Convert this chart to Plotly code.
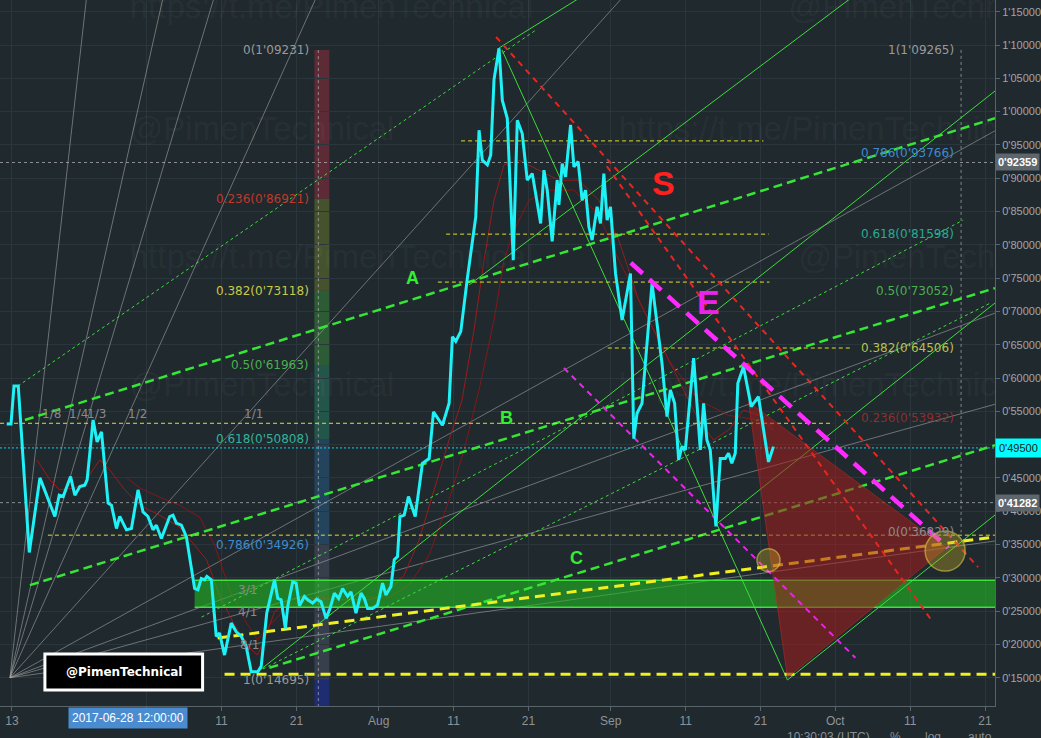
import numpy as np
import pandas as pd
import plotly.graph_objects as go

BASE = pd.Timestamp("2017-06-13")


def dt(d):
    return BASE + pd.to_timedelta(float(d), unit="D")


def dts(ds):
    return [dt(d) for d in ds]


# ---------------- price (days after 2017-06-13, price) ----------------
price_days = [-0.7, -0.13, 0.27, 0.84, 2.31, 3.73, 5.73, 6.31, 6.84, 7.83, 8.4, 9.07, 9.73, 10.04,
              10.84, 11.37, 11.96, 12.84, 13.29, 13.96, 14.4, 15.29, 15.96, 16.84, 17.51, 18.17,
              18.84, 19.29, 19.96, 21.07, 21.51, 21.96, 22.63, 23.29, 24.4, 24.84, 25.29, 25.73,
              26.04, 26.63, 27.29, 27.73, 28.4, 29.29, 29.96, 30.63, 31.29, 31.96, 32.84, 33.29,
              34.04, 35.07, 35.51, 35.96, 36.53, 36.84, 37.51, 37.96, 38.4, 39.07, 39.51, 40.17,
              40.71, 41.29, 41.96, 42.49, 43.07, 43.64, 44.17, 44.84, 45.29, 45.96, 46.63, 47.07,
              47.51, 48.17, 48.84, 49.51, 49.96, 50.63, 51.07, 51.51, 51.83, 52.4, 52.97, 53.87,
              54.84, 55.73, 56.31, 57.07, 57.51, 58.4, 58.84, 59.29, 59.96, 60.84, 61.96, 62.4,
              62.84, 63.51, 63.96, 64.4, 65.07, 65.51, 66.17, 66.97, 67.51, 68.17, 68.84, 69.51,
              70.04, 70.63, 71.07, 71.51, 72.17, 72.84, 73.07, 73.51, 73.96, 74.63, 75.07, 75.64,
              76.17, 76.63, 77.07, 77.51, 78.17, 78.63, 79.07, 79.51, 79.96, 80.63, 81.51, 82.63,
              83.07, 83.51, 84.17, 85.51, 86.84, 87.51, 87.96, 88.53, 89.07, 89.51, 89.96, 91.07,
              91.96, 92.4, 92.84, 93.29, 94.04, 94.63, 95.29, 95.73, 96.17, 96.63, 96.97, 97.73,
              98.76, 99.73, 101.07, 101.73]
price_vals = [0.531, 0.531, 0.588, 0.588, 0.338, 0.450, 0.392, 0.424, 0.422, 0.452, 0.424, 0.437,
              0.439, 0.447, 0.537, 0.504, 0.519, 0.412, 0.409, 0.374, 0.392, 0.372, 0.374, 0.432,
              0.399, 0.392, 0.372, 0.379, 0.359, 0.392, 0.394, 0.382, 0.379, 0.362, 0.284, 0.282,
              0.299, 0.297, 0.302, 0.297, 0.212, 0.217, 0.184, 0.232, 0.219, 0.212, 0.197, 0.159,
              0.159, 0.167, 0.247, 0.297, 0.269, 0.267, 0.224, 0.257, 0.294, 0.292, 0.258, 0.272,
              0.267, 0.262, 0.268, 0.264, 0.239, 0.254, 0.277, 0.269, 0.284, 0.272, 0.279, 0.247,
              0.277, 0.269, 0.254, 0.254, 0.259, 0.292, 0.274, 0.287, 0.327, 0.332, 0.392, 0.394,
              0.422, 0.392, 0.472, 0.479, 0.549, 0.537, 0.529, 0.562, 0.662, 0.655, 0.670, 0.750,
              0.842, 0.972, 0.927, 0.920, 0.935, 1.048, 1.095, 1.017, 0.990, 0.777, 0.987, 0.967,
              0.897, 0.907, 0.872, 0.832, 0.912, 0.882, 0.805, 0.897, 0.860, 0.922, 0.902, 0.980,
              0.917, 0.925, 0.867, 0.882, 0.827, 0.807, 0.857, 0.832, 0.907, 0.837, 0.857, 0.757,
              0.687, 0.757, 0.509, 0.547, 0.562, 0.742, 0.622, 0.542, 0.582, 0.562, 0.477, 0.497,
              0.492, 0.630, 0.492, 0.562, 0.507, 0.492, 0.377, 0.479, 0.479, 0.487, 0.472, 0.487,
              0.592, 0.617, 0.557, 0.572, 0.474, 0.497]

# moving averages (dark red)
ma_fast_days = [3.33, 5.07, 6.4, 8.4, 9.73, 10.8, 11.73, 13.07, 15.07, 17.07, 19.73, 22.4, 24.4, 26.0,
                27.73, 29.73, 31.73, 32.8, 33.73, 35.07, 37.07, 39.73, 43.73, 47.73, 49.73, 51.07,
                52.4, 54.4, 56.4, 58.4, 60.13, 61.73, 63.07, 64.4, 65.73, 67.73, 70.4, 73.07, 75.73,
                78.4, 81.07, 83.73, 86.4, 89.07, 91.73, 93.73, 95.73, 97.73, 99.73, 101.73]
ma_fast_vals = [0.477, 0.447, 0.432, 0.435, 0.442, 0.462, 0.477, 0.462, 0.432, 0.409, 0.394, 0.376,
                0.349, 0.327, 0.274, 0.229, 0.195, 0.184, 0.207, 0.249, 0.267, 0.270, 0.267, 0.267,
                0.274, 0.289, 0.304, 0.357, 0.432, 0.507, 0.567, 0.672, 0.777, 0.867, 0.920, 0.927,
                0.912, 0.897, 0.897, 0.867, 0.807, 0.717, 0.657, 0.597, 0.537, 0.507, 0.522, 0.552,
                0.544, 0.522]
ma_slow_days = [15.33, 17.07, 19.73, 22.4, 25.07, 27.07, 29.07, 31.07, 32.8, 34.4, 37.07, 41.07, 46.4,
                50.4, 53.07, 55.73, 58.4, 60.4, 62.4, 64.4, 65.73, 67.07, 69.07, 71.73, 75.07, 78.4,
                81.07, 84.4, 87.73, 91.73, 95.73, 99.73, 101.73]
ma_slow_vals = [0.450, 0.435, 0.421, 0.409, 0.391, 0.349, 0.282, 0.237, 0.207, 0.229, 0.259, 0.271,
                0.271, 0.271, 0.289, 0.334, 0.417, 0.492, 0.582, 0.687, 0.777, 0.822, 0.867, 0.882,
                0.882, 0.845, 0.777, 0.702, 0.627, 0.567, 0.544, 0.537, 0.529]

# ---------------- drawings (endpoints as (day, price)) ----------------
gann_origin = (-0.27, 0.15)
gann_unit_slope = 0.01248          # price per day of the 1/1 line
gann_multipliers = [8, 4, 3, 2, 1, 1 / 2, 1 / 3, 1 / 4, 1 / 8]
gann_top_labels = ["1/8", "1/4", "1/3", "1/2", "1/1"]
gann_top_label_days = [5.33, 8.9, 11.3, 16.8, 32.3]
gann_top_label_price = 0.546
gann_side_labels = ["3/1", "4/1", "8/1"]
gann_side_label_days = [31.5, 31.5, 31.7]
gann_side_label_prices = [0.282, 0.249, 0.199]

green_thick_dashed = [((1.73, 0.537), (131.33, 0.990)),
                      ((2.4, 0.289), (131.33, 0.735)),
                      ((34.4, 0.165), (131.33, 0.499))]
green_thin_dashed = [((0.8, 0.588), (70.0, 1.1225)),
                     ((25.33, 0.241), (127.07, 0.837)),
                     ((32.8, 0.159), (130.8, 0.713))]
green_solid = [((65.47, 1.0925), (103.6, 0.1466)),
               ((103.6, 0.1466), (131.33, 0.3943)),
               ((94.13, 0.3808), (131.33, 0.7126)),
               ((32.8, 0.1586), (131.33, 1.0309)),
               ((65.07, 1.0955), (78.4, 1.1886)),
               ((61.07, 0.7396), (114.4, 1.190))]
red_dashed = [((64.67, 1.112), (129.07, 0.316)),
              ((79.47, 0.918), (122.8, 0.237))]
magenta_thick = [((82.67, 0.773), (125.07, 0.345))]
magenta_thin = [((73.73, 0.615), (112.67, 0.180))]

yellow_thin_prices = [0.956, 0.816, 0.744, 0.645, 0.532, 0.364]
yellow_thin_spans = [(60.0, 100.4), (58.0, 101.1), (56.9, 101.2), (79.6, 112.0), (-1.6, 109.7), (4.8, 131.33)]
yellow_thick_flat = (0.155, 28.4, 131.33)
yellow_thick_slope = ((27.47, 0.2096), (131.33, 0.3613))

zone_prices = (0.2557, 0.2965)
zone_start_day = 24.4

triangle_days = [98.4, 103.6, 124.8]
triangle_prices = [0.564, 0.150, 0.345]

circle_days = [101.07, 124.67]
circle_prices = [0.3265, 0.3402]

letter_texts = ["A", "B", "C", "S", "E"]
letter_days = [53.47, 66.13, 75.47, 87.07, 93.07]
letter_prices = [0.750, 0.540, 0.330, 0.893, 0.714]

# Fibonacci retracements
fib_ratios = [0, 0.236, 0.382, 0.5, 0.618, 0.786, 1]
fib_left_prices = [1.09231, 0.86921, 0.73118, 0.61963, 0.50808, 0.34926, 0.14695]
fib_left_labels = ["0(1'09231)", "0.236(0'86921)", "0.382(0'73118)", "0.5(0'61963)",
                   "0.618(0'50808)", "0.786(0'34926)", "1(0'14695)"]
fib_left_label_day = 39.9
fib_left_strip = (40.4, 42.4)
fib_right_prices = [1.09265, 0.93766, 0.81598, 0.73052, 0.64506, 0.53932, 0.36829]
fib_right_labels = ["1(1'09265)", "0.786(0'93766)", "0.618(0'81598)", "0.5(0'73052)",
                    "0.382(0'64506)", "0.236(0'53932)", "0(0'36829)"]
fib_right_label_day = 126.1
fib_right_vline_day = 126.8

hline_prices = [0.92359, 0.41282]
hline_labels = ["0'92359", "0'41282"]
last_price = 0.495
last_label = "0'49500"
crosshair_day = 15.5
crosshair_label = "2017-06-28 12:00:00"
fib_vline_day = 40.93

ytick_vals = [0.15, 0.20, 0.25, 0.30, 0.35, 0.40, 0.45, 0.50, 0.55, 0.60, 0.65, 0.70, 0.75, 0.80,
              0.85, 0.90, 0.95, 1.00, 1.05, 1.10, 1.15]
ytick_text = ["0'15000", "0'20000", "0'25000", "0'30000", "0'35000", "0'40000", "0'45000", "0'50000",
              "0'55000", "0'60000", "0'65000", "0'70000", "0'75000", "0'80000", "0'85000", "0'90000",
              "0'95000", "1'00000", "1'05000", "1'10000", "1'15000"]
xtick_dates = ["2017-06-13", "2017-07-01", "2017-07-11", "2017-07-21", "2017-08-01", "2017-08-11",
               "2017-08-21", "2017-09-01", "2017-09-11", "2017-09-21", "2017-10-01", "2017-10-11",
               "2017-10-21"]
xtick_text = ["13", "", "11", "21", "Aug", "11", "21", "Sep", "11", "21", "Oct", "11", "21"]

# watermark texts (repeated, staggered)
wm_texts = ["https://t.me/PimenTechnical", "@PimenTechnical",
            "@PimenTechnical", "https://t.me/PimenTechnical",
            "https://t.me/PimenTechnical", "@PimenTechnical",
            "@PimenTechnical", "https://t.me/PimenTechnical"]

X_RANGE = (-1.6, 131.33)
Y_RANGE = (0.1075, 1.16757)

# ---------------- styles ----------------
BG = "#1f292e"
GRID = "#2b363c"
CYAN = "#1ff2f7"
FONT = "DejaVu Sans"
PLOT_W, PLOT_H = 997, 706

fig = go.Figure()


def seg(p0, p1, color, width, dash="solid"):
    fig.add_trace(go.Scatter(x=[dt(p0[0]), dt(p1[0])], y=[p0[1], p1[1]], mode="lines",
                             line=dict(color=color, width=width, dash=dash), hoverinfo="skip"))


# watermarks on an overlay pixel axis so they clip at the plot edge
wm_px_x = [130, 790, 130, 620, 130, 800, 130, 620]
wm_px_y = [10, 10, 132, 132, 260, 260, 388, 388]
fig.add_trace(go.Scatter(x=wm_px_x, y=wm_px_y, xaxis="x2", yaxis="y2", mode="text", text=wm_texts,
                         textposition="middle right", cliponaxis=True, hoverinfo="skip",
                         textfont=dict(family="Liberation Sans", size=33, color="rgba(255,255,255,0.055)")))

# left fib strip bands
strip_colors = ["rgba(135,45,60,0.6)", "rgba(95,110,45,0.6)", "rgba(55,125,60,0.6)",
                "rgba(40,115,95,0.6)", "rgba(40,85,125,0.6)", "rgba(70,78,95,0.6)"]
for i in range(6):
    fig.add_shape(type="rect", xref="x", yref="y", x0=dt(fib_left_strip[0]), x1=dt(fib_left_strip[1]),
                  y0=fib_left_prices[i + 1], y1=fib_left_prices[i], fillcolor=strip_colors[i],
                  line=dict(width=0), layer="below")
fig.add_shape(type="rect", xref="x", yref="y", x0=dt(fib_left_strip[0]), x1=dt(fib_left_strip[1]),
              y0=Y_RANGE[0], y1=fib_left_prices[-1], fillcolor="rgba(30,45,130,0.8)",
              line=dict(width=0), layer="below")

# gann fan
for m in gann_multipliers:
    d_end = 140
    p_end = gann_origin[1] + m * gann_unit_slope * (d_end - gann_origin[0])
    seg(gann_origin, (d_end, p_end), "rgba(175,175,175,0.55)", 1)

# moving averages
fig.add_trace(go.Scatter(x=dts(ma_fast_days), y=ma_fast_vals, mode="lines",
                         line=dict(color="rgba(175,25,25,0.85)", width=1), hoverinfo="skip"))
fig.add_trace(go.Scatter(x=dts(ma_slow_days), y=ma_slow_vals, mode="lines",
                         line=dict(color="rgba(150,20,20,0.85)", width=1), hoverinfo="skip"))

# horizontal reference lines
for p in hline_prices:
    seg((X_RANGE[0], p), (X_RANGE[1], p), "rgba(200,200,200,0.65)", 1, "3px,3px")
seg((X_RANGE[0], last_price), (X_RANGE[1], last_price), "rgba(0,230,255,0.9)", 1, "2px,2px")
seg((fib_vline_day, fib_left_prices[0]), (fib_vline_day, Y_RANGE[0]), "rgba(200,200,200,0.6)", 1, "3px,3px")
seg((fib_right_vline_day, fib_right_prices[0]), (fib_right_vline_day, fib_right_prices[-1]),
    "rgba(200,200,200,0.6)", 1, "3px,3px")

# green zone
zx = [dt(zone_start_day), dt(X_RANGE[1] + 2), dt(X_RANGE[1] + 2), dt(zone_start_day), dt(zone_start_day)]
zy = [zone_prices[0], zone_prices[0], zone_prices[1], zone_prices[1], zone_prices[0]]
fig.add_trace(go.Scatter(x=zx, y=zy, mode="lines", fill="toself", fillcolor="rgba(35,185,35,0.6)",
                         line=dict(color="rgba(0,0,0,0)", width=0), hoverinfo="skip"))
for p in zone_prices:
    seg((zone_start_day, p), (X_RANGE[1] + 2, p), "#3de03d", 1.5)

# thin green lines
for a, b in green_solid:
    seg(a, b, "#3ddc3d", 1)
for a, b in green_thin_dashed:
    seg(a, b, "#3ddc3d", 1, "3px,3px")
for a, b in green_thick_dashed:
    seg(a, b, "#35e635", 2.5, "9px,5px")

# yellow lines
for p, (d0, d1) in zip(yellow_thin_prices, yellow_thin_spans):
    seg((d0, p), (d1, p), "#e0e02a", 1, "4px,3px")
seg((yellow_thick_flat[1], yellow_thick_flat[0]), (yellow_thick_flat[2], yellow_thick_flat[0]),
    "#f0f020", 3, "10px,6px")
seg(yellow_thick_slope[0], yellow_thick_slope[1], "#f0f020", 3, "10px,6px")

# red triangle
fig.add_trace(go.Scatter(x=dts(triangle_days + triangle_days[:1]), y=triangle_prices + triangle_prices[:1],
                         mode="lines", fill="toself", fillcolor="rgba(165,30,30,0.55)",
                         line=dict(color="rgba(200,40,40,0.5)", width=1), hoverinfo="skip"))

# red / magenta dashed
for a, b in red_dashed:
    seg(a, b, "#e8261f", 2, "6px,5px")
for a, b in magenta_thin:
    seg(a, b, "#ee22ee", 2, "6px,5px")

# price
fig.add_trace(go.Scatter(x=dts(price_days), y=price_vals, mode="lines",
                         line=dict(color=CYAN, width=3), hoverinfo="skip"))

for a, b in magenta_thick:
    seg(a, b, "#ff2aff", 4.5, "16px,9px")

# circles
fig.add_trace(go.Scatter(x=dts(circle_days), y=circle_prices, mode="markers",
                         marker=dict(size=[23, 40], color="rgba(200,175,40,0.5)",
                                     line=dict(color="rgba(230,210,70,0.85)", width=1.5)),
                         hoverinfo="skip"))

ann = []
# gann labels
for t, d in zip(gann_top_labels, gann_top_label_days):
    ann.append(dict(x=dt(d), y=gann_top_label_price, text=t, showarrow=False,
                    font=dict(family=FONT, size=12, color="#8a8a8a")))
for t, d, p in zip(gann_side_labels, gann_side_label_days, gann_side_label_prices):
    ann.append(dict(x=dt(d), y=p, text=t, showarrow=False,
                    font=dict(family=FONT, size=12, color="#8a8a8a")))

# fib labels
left_cols = ["#9a9a9a", "#c0392b", "#c9c94a", "#4caf50", "#35b39a", "#3d8bd0", "#9a9a9a"]
right_cols = ["#9a9a9a", "#3d8bd0", "#2aa995", "#4caf50", "#b8c24a", "#8e2f2f", "#8a8a8a"]
for t, p, c in zip(fib_left_labels, fib_left_prices, left_cols):
    ann.append(dict(x=dt(fib_left_label_day), y=p, text=t, xanchor="right", showarrow=False,
                    font=dict(family=FONT, size=12, color=c)))
for t, p, c in zip(fib_right_labels, fib_right_prices, right_cols):
    ann.append(dict(x=dt(fib_right_label_day), y=p, text=t, xanchor="right", showarrow=False,
                    font=dict(family=FONT, size=12, color=c)))

# letters
letter_cols = ["#33ee33", "#33ee33", "#33ee33", "#ff2020", "#ee22ee"]
letter_sizes = [18, 18, 18, 34, 34]
for t, d, p, c, s in zip(letter_texts, letter_days, letter_prices, letter_cols, letter_sizes):
    ann.append(dict(x=dt(d), y=p, text="<b>" + t + "</b>", showarrow=False,
                    font=dict(family="Liberation Sans", size=s, color=c)))

# axis value boxes
for t, p in zip(hline_labels, hline_prices):
    ann.append(dict(xref="paper", x=1.0, y=p, xanchor="left", text="<b>" + t + "</b>", showarrow=False,
                    bgcolor="#5d666c", borderpad=2, font=dict(family="Liberation Sans", size=11, color="white")))
ann.append(dict(xref="paper", x=1.0, y=last_price, xanchor="left", text=last_label, showarrow=False,
                bgcolor="#00ffff", borderpad=3, font=dict(family="Liberation Sans", size=11, color="#1a1a1a")))

# crosshair date box
ann.append(dict(x=dt(crosshair_day), yref="paper", y=0, yanchor="top", yshift=-1, text=crosshair_label,
                showarrow=False, bgcolor="#4a8ccf", borderpad=3,
                font=dict(family="Liberation Sans", size=12, color="white")))

# logo
fig.add_shape(type="rect", xref="paper", yref="paper", x0=45 / PLOT_W, x1=203 / PLOT_W,
              y0=1 - 690 / PLOT_H, y1=1 - 654 / PLOT_H, fillcolor="black", line=dict(color="white", width=3))
ann.append(dict(xref="paper", yref="paper", x=124 / PLOT_W, y=1 - 672 / PLOT_H, xanchor="center",
                yanchor="middle", text="<b>@PimenTechnical</b>",
                showarrow=False, font=dict(family=FONT, size=12, color="white")))

# bottom toolbar (cut off by the window edge)
for t, xp in (("10:30:03 (UTC)", 830), ("%", 897), ("log", 935), ("auto", 982)):
    ann.append(dict(xref="paper", yref="paper", x=xp / PLOT_W, y=-31 / PLOT_H, xanchor="center",
                    yanchor="middle", text=t, showarrow=False,
                    font=dict(family="Liberation Sans", size=12, color="#8a8f94")))

fig.update_layout(
    width=1041, height=738, margin=dict(l=0, r=44, t=0, b=32),
    paper_bgcolor=BG, plot_bgcolor=BG, showlegend=False, annotations=ann,
    xaxis=dict(range=[dt(X_RANGE[0]), dt(X_RANGE[1])], tickvals=xtick_dates, ticktext=xtick_text,
               gridcolor=GRID, showline=True, linecolor="#59636a", ticks="outside", ticklen=4,
               tickcolor="#59636a", tickfont=dict(family="Liberation Sans", size=12, color="#8d9399"),
               zeroline=False, fixedrange=True),
    yaxis=dict(side="right", range=list(Y_RANGE), tickvals=ytick_vals, ticktext=ytick_text,
               gridcolor=GRID, showline=True, linecolor="#59636a", ticks="outside", ticklen=4,
               tickcolor="#59636a", tickfont=dict(family="Liberation Sans", size=11, color="#a0a6ab"),
               zeroline=False, fixedrange=True),
    xaxis2=dict(overlaying="x", range=[0, PLOT_W], visible=False, fixedrange=True),
    yaxis2=dict(overlaying="y", range=[PLOT_H, 0], visible=False, fixedrange=True),
)

fig.write_html("out.html", config={"displayModeBar": False},
               post_script="document.body.style.margin='0';document.body.style.overflow='hidden';")
